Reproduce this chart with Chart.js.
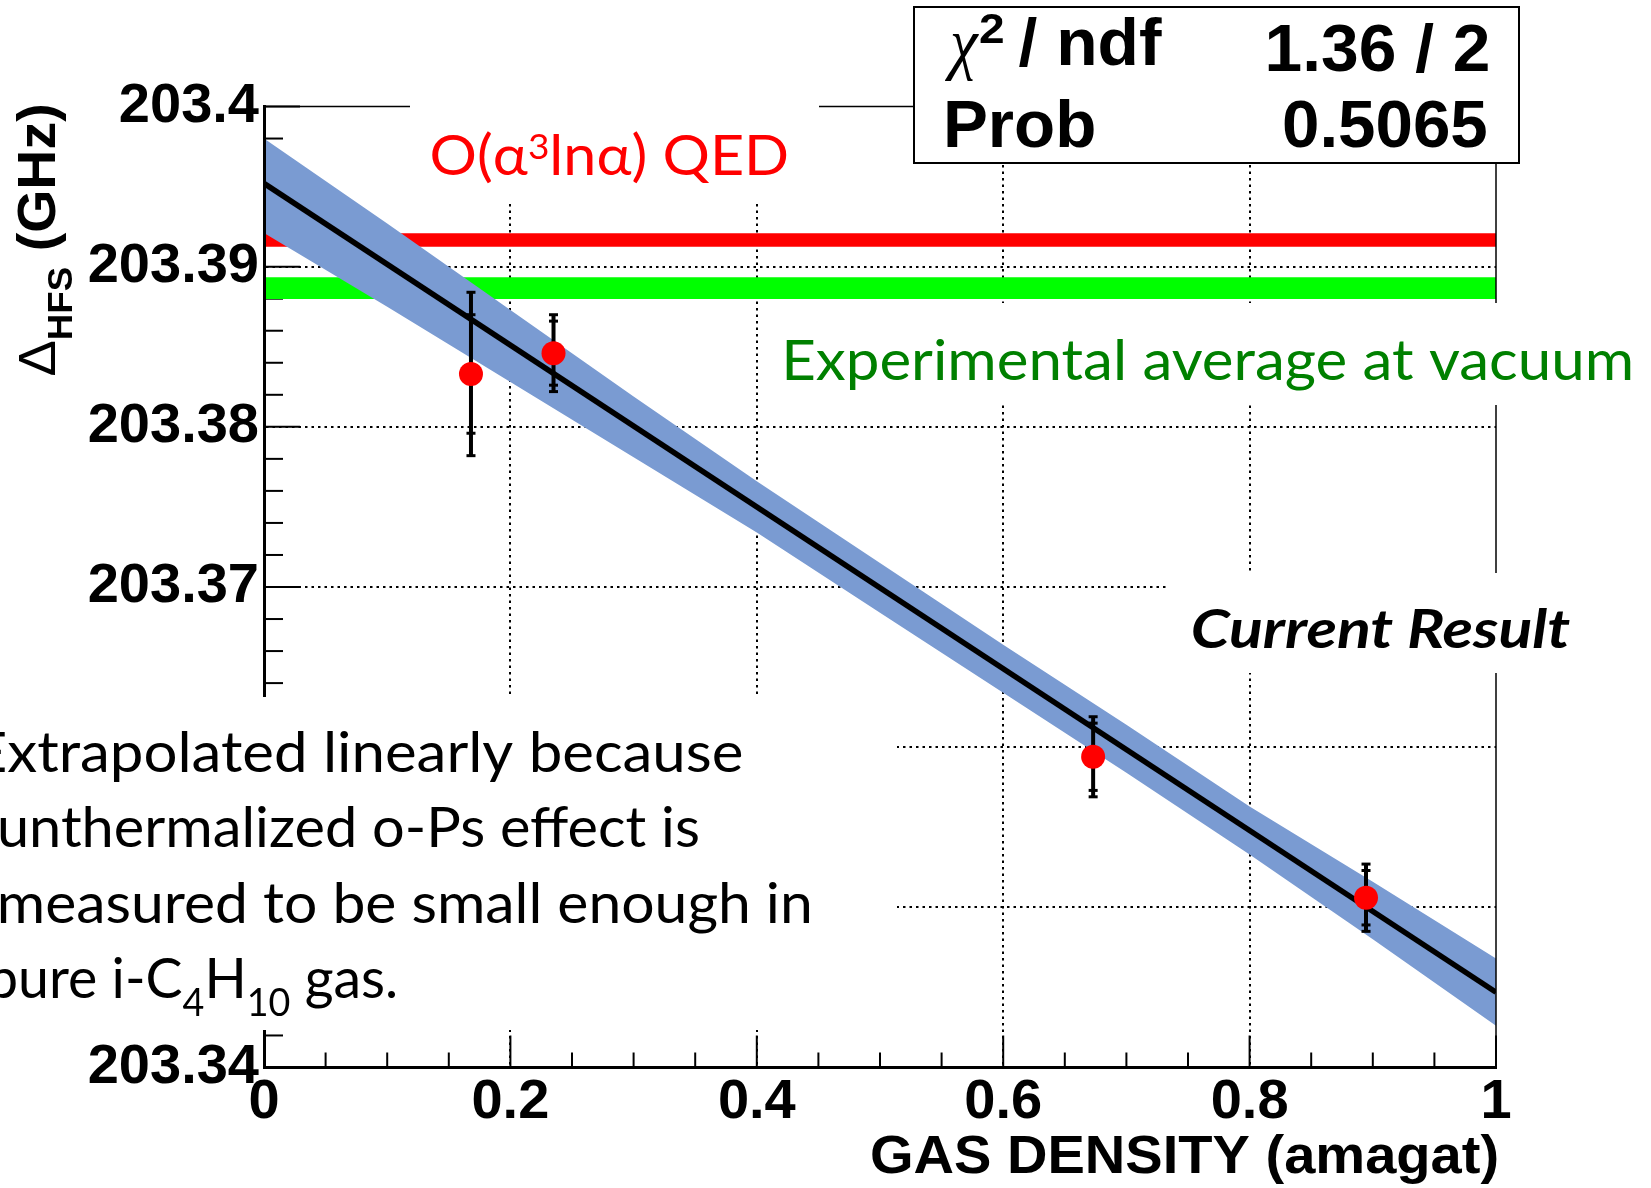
<!DOCTYPE html>
<html lang="en">
<head>
<meta charset="UTF-8" />
<title>HFS vs gas density</title>
<script src="https://cdn.jsdelivr.net/npm/chart.js"></script>
<style>
  html, body { margin: 0; padding: 0; background: #fff; }
  #wrap { width: 1651px; height: 1188px; }
</style>
</head>
<body>
<div id="wrap"><canvas id="hfsChart" width="1651" height="1188"></canvas></div>
<script>
  // measured points (GHz vs amagat)
  const density = [0.168, 0.235, 0.673, 0.8945];
  const hfs = [203.3833, 203.3846, 203.3594, 203.3506];
  const errTotal = [0.0051, 0.0024, 0.0025, 0.0021];
  const errStat = [0.0037, 0.0020, 0.0021, 0.0017];

  // linear fit and its confidence band
  const fitX = [0, 1];
  const fitY = [203.3952, 203.3447];
  const bandX = [0, 0.1, 0.2, 0.3, 0.4, 0.5, 0.6, 0.7, 0.8, 0.9, 1];
  const bandLow = [203.3921, 203.3875, 203.3828, 203.3781, 203.3734, 203.3684, 203.3634, 203.3584, 203.3533, 203.3480, 203.3426];
  const bandHigh = [203.3980, 203.3927, 203.3873, 203.3819, 203.3766, 203.3715, 203.3664, 203.3614, 203.3563, 203.3516, 203.3468];

  // reference values (low, high)
  const qedBand = [203.39125, 203.39208];
  const expBand = [203.38798, 203.38934];

  const xTicks = [0, 0.2, 0.4, 0.6, 0.8, 1];
  const yTicks = [203.34, 203.35, 203.36, 203.37, 203.38, 203.39, 203.4];

  const noteLines = ['Extrapolated linearly because', 'unthermalized o-Ps effect is', 'measured to be small enough in'];

  const HELV = '"Liberation Sans", Arial, sans-serif';
  const CALI = 'Lato, "Noto Sans", sans-serif';
  const tickFont = { family: HELV, size: 56, weight: 'bold' };

  const flat = (vals) => [{ x: 0, y: vals }, { x: 1, y: vals }];
  const hideEdge = (list) => (c) => (c.index === 0 || c.index === list.length - 1) ? 'rgba(0,0,0,0)' : '#000';

  // draws runs of text, stretched so the ink spans the given width
  function fitText(ctx, runs, x, y, inkWidth, align) {
    let adv = 0, left = 0, right = 0;
    ctx.textAlign = 'left';
    ctx.textBaseline = 'alphabetic';
    runs.forEach((r, i) => {
      ctx.font = r[1];
      const m = ctx.measureText(r[0]);
      if (i === 0) left = -m.actualBoundingBoxLeft;
      right = adv + m.actualBoundingBoxRight;
      adv += m.width;
    });
    const sx = inkWidth ? inkWidth / (right - left) : 1;
    ctx.save();
    ctx.translate(align === 'right' ? x - right * sx : x - left * sx, y);
    ctx.scale(sx, 1);
    let cx = 0;
    runs.forEach(r => {
      ctx.font = r[1];
      ctx.fillText(r[0], cx, r[2] || 0);
      cx += ctx.measureText(r[0]).width;
    });
    ctx.restore();
  }

  function seg(ctx, x1, y1, x2, y2) {
    ctx.beginPath();
    ctx.moveTo(x1, y1);
    ctx.lineTo(x2, y2);
    ctx.stroke();
  }

  const frame = {
    id: 'frame',
    beforeDatasetsDraw(chart) {
      const { ctx, chartArea: a, scales: { x, y } } = chart;
      ctx.save();
      ctx.strokeStyle = '#000';
      ctx.lineWidth = 2;
      // inward ticks, ROOT style
      for (let i = 0; i <= 20; i++) {
        const px = x.getPixelForValue(i * 0.05);
        seg(ctx, px, a.bottom, px, a.bottom - (i % 4 === 0 ? 32 : 15));
      }
      for (let i = 0; i <= 30; i++) {
        const py = y.getPixelForValue(203.34 + i * 0.002);
        seg(ctx, a.left, py, a.left + (i % 5 === 0 ? 36 : 19), py);
      }
      ctx.restore();
    },
    afterDatasetsDraw(chart) {
      const { ctx, chartArea: a } = chart;
      ctx.save();
      ctx.strokeStyle = '#000';
      ctx.lineWidth = 1.5;
      seg(ctx, a.left, a.top, a.right, a.top);
      seg(ctx, a.right, a.top, a.right, a.bottom);
      ctx.restore();
    }
  };

  const errorBars = {
    id: 'errorBars',
    beforeDatasetDraw(chart, args) {
      if (args.index !== 7) return;
      const { ctx, scales: { x, y } } = chart;
      ctx.save();
      ctx.strokeStyle = '#000';
      density.forEach((d, i) => {
        const px = x.getPixelForValue(d);
        ctx.lineWidth = 4;
        seg(ctx, px, y.getPixelForValue(hfs[i] + errTotal[i]), px, y.getPixelForValue(hfs[i] - errTotal[i]));
        ctx.lineWidth = 3;
        [errTotal[i], -errTotal[i], errStat[i], -errStat[i]].forEach(e => {
          const py = y.getPixelForValue(hfs[i] + e);
          seg(ctx, px - 4.5, py, px + 4.5, py);
        });
      });
      ctx.restore();
    }
  };

  const labels = {
    id: 'labels',
    afterDraw(chart) {
      const ctx = chart.ctx;
      ctx.save();
      // white text boxes pasted over the plot
      ctx.fillStyle = '#fff';
      ctx.fillRect(410, 60, 409, 143);
      ctx.fillRect(775, 303, 876, 102);
      ctx.fillRect(1169, 573, 482, 100);
      ctx.fillRect(0, 697, 897, 333);
      ctx.fillRect(914, 7, 605, 156);
      ctx.strokeStyle = '#000';
      ctx.lineWidth = 2;
      ctx.strokeRect(914, 7, 605, 156);

      // fit statistics
      ctx.fillStyle = '#000';
      fitText(ctx, [['χ', 'italic 70px "Liberation Serif", serif']], 944.5, 66, 35);
      fitText(ctx, [['2', 'bold 42px ' + HELV]], 980, 43, 23);
      fitText(ctx, [['/ ndf', 'bold 66px ' + HELV]], 1018.6, 65, 144);
      fitText(ctx, [['1.36 / 2', 'bold 66px ' + HELV]], 1488.7, 70.7, 220, 'right');
      fitText(ctx, [['Prob', 'bold 66px ' + HELV]], 947, 146.7, 147);
      fitText(ctx, [['0.5065', 'bold 66px ' + HELV]], 1486, 146.7, 202, 'right');

      // annotations
      ctx.fillStyle = '#ff0000';
      fitText(ctx, [['O(α', '56px ' + CALI], ['3', '35px ' + CALI, -16], ['lnα) QED', '56px ' + CALI]], 431.7, 175, 354.7);
      ctx.fillStyle = '#008000';
      fitText(ctx, [['Experimental average at vacuum', '56px ' + CALI]], 786.5, 380, 844.3);
      ctx.fillStyle = '#000';
      fitText(ctx, [['Current Result', 'italic bold 54px ' + CALI]], 1193, 648, 377.5);
      fitText(ctx, [[noteLines[0], '56px ' + CALI]], -22, 771.7, 763.7);
      fitText(ctx, [[noteLines[1], '56px ' + CALI]], 0, 846.7, 698.6);
      fitText(ctx, [[noteLines[2], '56px ' + CALI]], 0, 923.3, 809.4);
      fitText(ctx, [['pure i-C', '56px ' + CALI], ['4', '38px ' + CALI, 18], ['H', '56px ' + CALI],
                    ['10', '38px ' + CALI, 18], [' gas.', '56px ' + CALI]], -10, 998.3, 406);

      // axis titles
      fitText(ctx, [['GAS DENSITY (amagat)', 'bold 54px ' + HELV]], 872, 1173, 625);
      ctx.translate(55, 375.5);
      ctx.rotate(-Math.PI / 2);
      fitText(ctx, [['Δ', '52px ' + HELV], ['HFS', 'bold 35px ' + HELV, 16.7], [' (GHz)', 'bold 53px ' + HELV]], 0, 0, 270.5);
      ctx.restore();
    }
  };

  const ctx = document.getElementById('hfsChart').getContext('2d');
  const noLine = { borderColor: 'rgba(0,0,0,0)', borderWidth: 0, pointRadius: 0, fill: false };

  new Chart(ctx, {
    type: 'line',
    data: {
      datasets: [
        { ...noLine, label: 'QED low', data: flat(qedBand[0]), order: 7 },
        { ...noLine, label: 'QED high', data: flat(qedBand[1]), fill: '-1', backgroundColor: '#ff0000', order: 6 },
        { ...noLine, label: 'Exp low', data: flat(expBand[0]), order: 5 },
        { ...noLine, label: 'Exp high', data: flat(expBand[1]), fill: '-1', backgroundColor: '#00ff00', order: 4 },
        { ...noLine, label: 'Band low', data: bandX.map((v, i) => ({ x: v, y: bandLow[i] })), order: 3 },
        { ...noLine, label: 'Band high', data: bandX.map((v, i) => ({ x: v, y: bandHigh[i] })), fill: '-1', backgroundColor: '#7a9bd2', order: 2 },
        { label: 'Fit', data: fitX.map((v, i) => ({ x: v, y: fitY[i] })), borderColor: '#000', borderWidth: 5.5, pointRadius: 0, fill: false, order: 1 },
        { label: 'Data', data: density.map((v, i) => ({ x: v, y: hfs[i] })), showLine: false, pointRadius: 12,
          pointBackgroundColor: '#ff0000', pointBorderWidth: 0, pointBorderColor: '#ff0000', order: 0 }
      ]
    },
    options: {
      responsive: false,
      animation: false,
      events: [],
      layout: { padding: { top: 106.5, right: 155, left: 0, bottom: 0 } },
      plugins: { legend: { display: false }, tooltip: { enabled: false } },
      scales: {
        x: {
          type: 'linear', min: 0, max: 1,
          afterBuildTicks: s => { s.ticks = xTicks.map(v => ({ value: v })); },
          afterFit: s => { s.height = 120.5; },
          ticks: { font: tickFont, color: '#000', padding: 1, maxRotation: 0, autoSkip: false,
                   callback: v => String(+v.toFixed(1)) },
          grid: { drawTicks: false, lineWidth: 2, color: hideEdge(xTicks) },
          border: { display: true, color: '#000', width: 3, dash: [2.5, 4], z: 1 }
        },
        y: {
          type: 'linear', min: 203.34, max: 203.4,
          afterBuildTicks: s => { s.ticks = yTicks.map(v => ({ value: v })); },
          afterFit: s => { s.width = 264; },
          ticks: { font: tickFont, color: '#000', padding: 5, autoSkip: false,
                   callback: v => String(+v.toFixed(2)) },
          grid: { drawTicks: false, lineWidth: 2, color: hideEdge(yTicks) },
          border: { display: true, color: '#000', width: 3, dash: [2.5, 4], z: 1 }
        }
      }
    },
    plugins: [frame, errorBars, labels]
  });
</script>
</body>
</html>
